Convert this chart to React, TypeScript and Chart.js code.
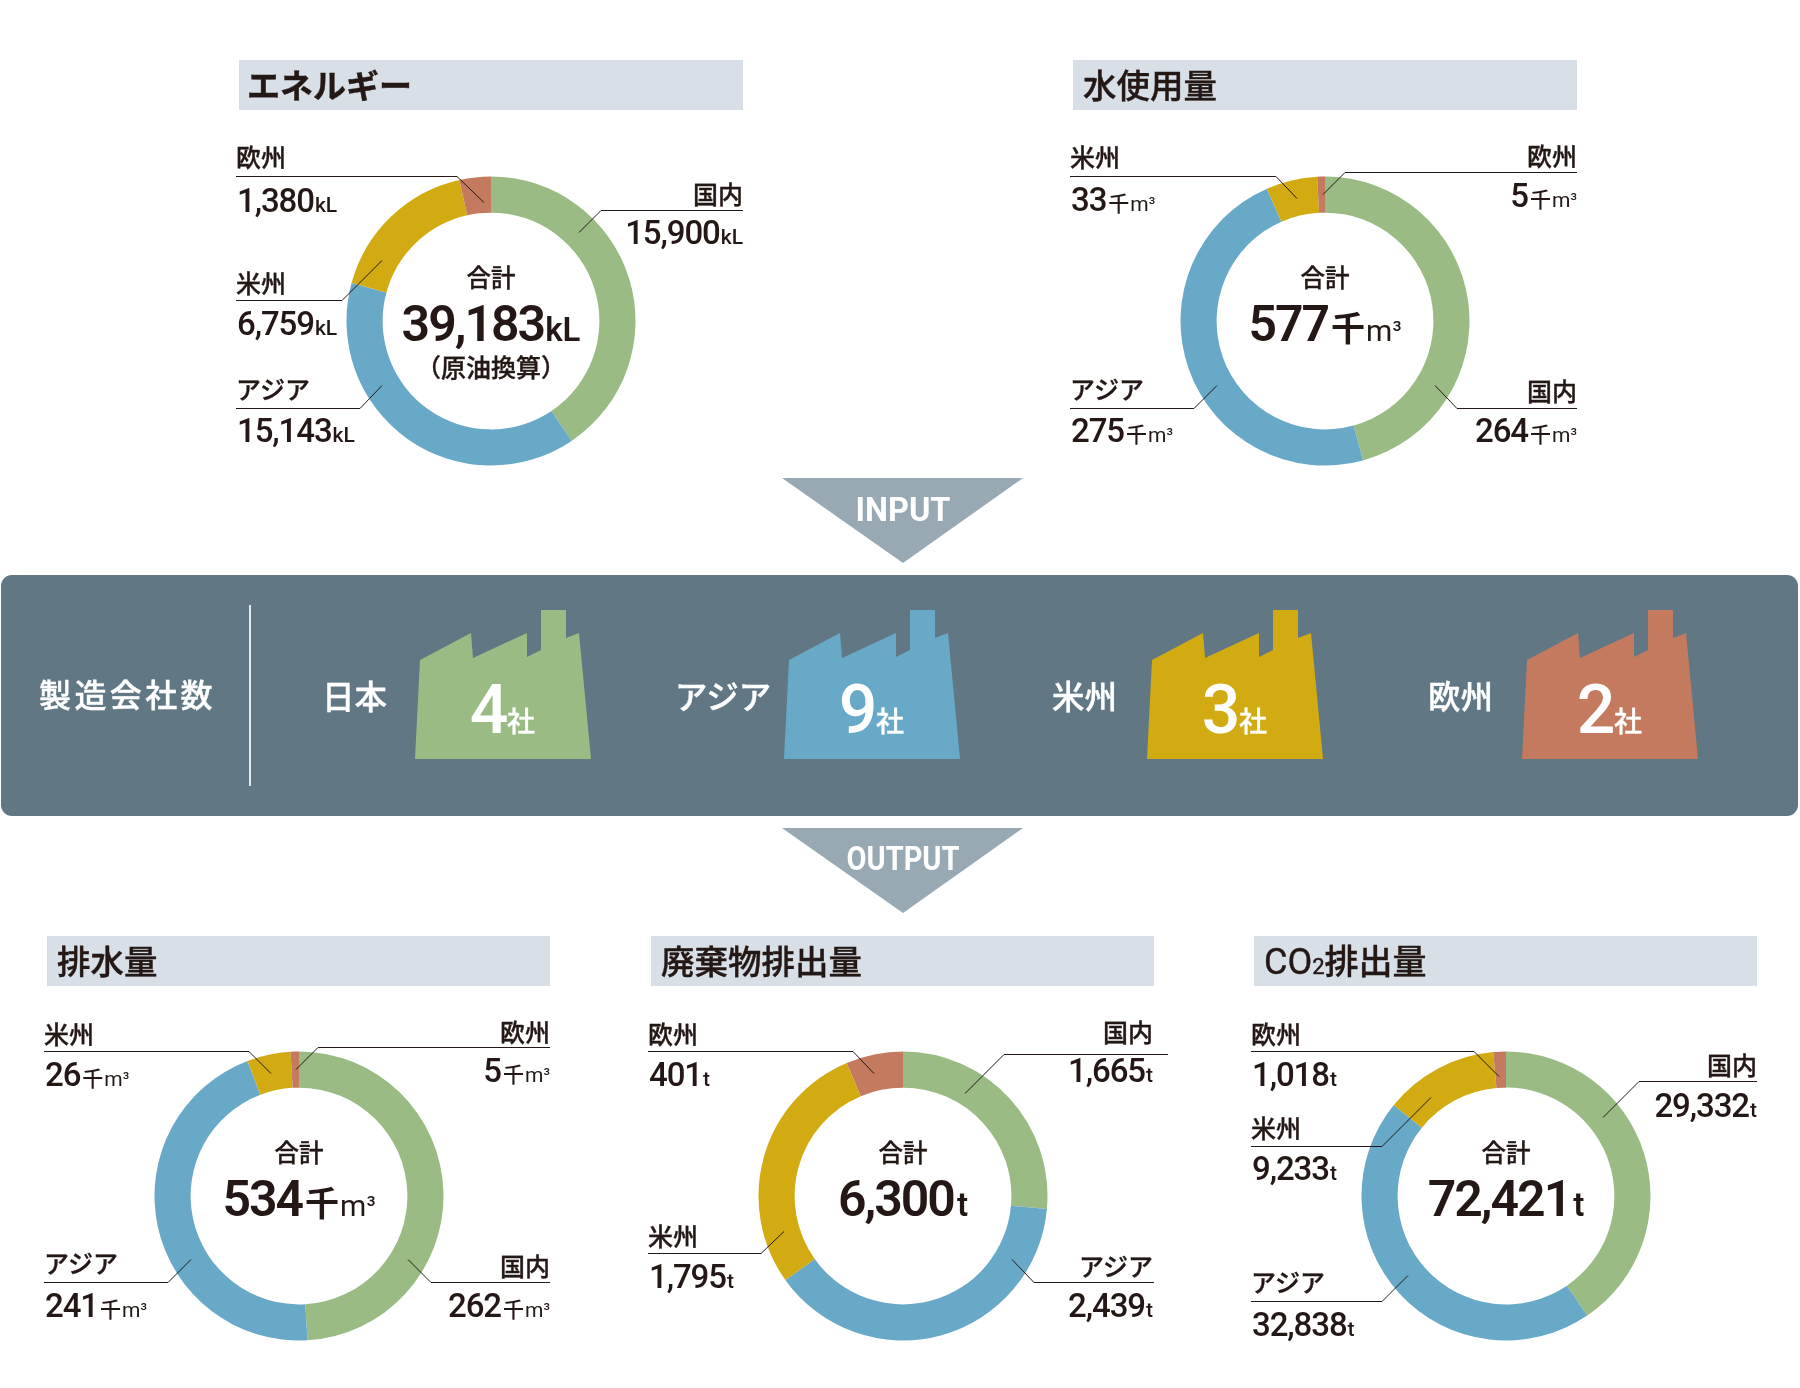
import React, { useEffect, useRef } from "react";
import { Chart, registerables } from "chart.js";

Chart.register(...registerables);

const regions = ["国内", "アジア", "米州", "欧州"];
const regionColors = ["#9BBB85", "#69A9C8", "#D2AB12", "#C47A5F"];

const energyValues = [15900, 15143, 6759, 1380];
const waterValues = [264, 275, 33, 5];
const drainValues = [262, 241, 26, 5];
const wasteValues = [1665, 2439, 1795, 401];
const co2Values = [29332, 32838, 9233, 1018];

const chartTotals = [39183, 577, 534, 6300, 72421];
const chartUnits = ["kL", "千m³", "千m³", "t", "t"];
const chartTitles = ["エネルギー", "水使用量", "排水量", "廃棄物排出量", "CO2排出量"];

const companyRegions = ["日本", "アジア", "米州", "欧州"];
const companyCounts = [4, 9, 3, 2];
const companyColors = ["#9BBB85", "#69A9C8", "#D2AB12", "#C47A5F"];

const INK = "#231815";
const FONT = 'Roboto, "Noto Sans CJK JP", sans-serif';

type Callout = { end: boolean; x: number; nameY: number; valueY: number; line: number[] };
type Layout = { cx: number; cy: number; bandX: number; bandY: number; bandW: number; callouts: Callout[] };

// callouts follow the order of `regions`
const layouts: Layout[] = [
  {
    cx: 491, cy: 321, bandX: 239, bandY: 60, bandW: 504,
    callouts: [
      { end: true, x: 743, nameY: 204, valueY: 244, line: [743, 210, 601, 210, 579, 232] },
      { end: false, x: 236, nameY: 399, valueY: 442, line: [236, 408, 360, 408, 382, 385] },
      { end: false, x: 236, nameY: 293, valueY: 335, line: [236, 300, 342, 300, 382, 260] },
      { end: false, x: 236, nameY: 167, valueY: 212, line: [236, 176, 457, 176, 484, 202] },
    ],
  },
  {
    cx: 1325, cy: 321, bandX: 1073, bandY: 60, bandW: 504,
    callouts: [
      { end: true, x: 1577, nameY: 401, valueY: 442, line: [1577, 408, 1457, 408, 1435, 385] },
      { end: false, x: 1070, nameY: 399, valueY: 442, line: [1070, 408, 1194, 408, 1217, 385] },
      { end: false, x: 1070, nameY: 167, valueY: 211, line: [1070, 176, 1276, 176, 1297, 198] },
      { end: true, x: 1577, nameY: 166, valueY: 207, line: [1577, 172, 1345, 172, 1323, 194] },
    ],
  },
  {
    cx: 299, cy: 1196, bandX: 47, bandY: 936, bandW: 503,
    callouts: [
      { end: true, x: 550, nameY: 1276, valueY: 1317, line: [550, 1282, 431, 1282, 408, 1259] },
      { end: false, x: 44, nameY: 1273, valueY: 1317, line: [44, 1282, 168, 1282, 191, 1259] },
      { end: false, x: 44, nameY: 1044, valueY: 1086, line: [44, 1051, 249, 1051, 271, 1073] },
      { end: true, x: 550, nameY: 1042, valueY: 1082, line: [550, 1047, 318, 1047, 296, 1069] },
    ],
  },
  {
    cx: 903, cy: 1196, bandX: 651, bandY: 936, bandW: 503,
    callouts: [
      { end: true, x: 1153, nameY: 1042, valueY: 1082, line: [1168, 1054, 1004, 1054, 965, 1093] },
      { end: true, x: 1153, nameY: 1276, valueY: 1317, line: [1154, 1282, 1034, 1282, 1012, 1259] },
      { end: false, x: 648, nameY: 1246, valueY: 1288, line: [648, 1253, 761, 1253, 784, 1231] },
      { end: false, x: 648, nameY: 1044, valueY: 1086, line: [648, 1051, 853, 1051, 874, 1073] },
    ],
  },
  {
    cx: 1506, cy: 1196, bandX: 1254, bandY: 936, bandW: 503,
    callouts: [
      { end: true, x: 1757, nameY: 1075, valueY: 1117, line: [1757, 1081, 1639, 1081, 1603, 1117] },
      { end: false, x: 1251, nameY: 1292, valueY: 1336, line: [1251, 1301, 1382, 1301, 1408, 1275] },
      { end: false, x: 1251, nameY: 1138, valueY: 1180, line: [1251, 1146, 1382, 1146, 1431, 1097] },
      { end: false, x: 1251, nameY: 1044, valueY: 1086, line: [1251, 1051, 1474, 1051, 1499, 1076] },
    ],
  },
];

const chartValues = [energyValues, waterValues, drainValues, wasteValues, co2Values];

const factoryX = [415, 784, 1147, 1522];
const factoryLabelX = [322, 675, 1052, 1428];
const factoryOutline = [
  [0, 759], [5, 660], [56, 633], [58, 658], [112, 633], [112, 657], [126, 650],
  [126, 610], [151, 610], [151, 638], [164, 633], [176, 759],
];

const fmt = (n: number) => n.toLocaleString("en-US");

function UnitSpans({ unit, big }: { unit: string; big: boolean }) {
  const size = big ? 33 : 21;
  if (unit === "千m³") {
    return (
      <>
        <tspan dx={big ? 3 : 2} fontSize={big ? 34 : 21}>千</tspan>
        <tspan fontSize={big ? 30 : 21} fontWeight={400} dx={1}>m</tspan>
        <tspan fontSize={big ? 25 : 18} fontWeight={400} dy={big ? -2 : -1}>³</tspan>
      </>
    );
  }
  return <tspan fontSize={size} dx={unit === "t" && big ? 3 : 1}>{unit}</tspan>;
}

function Donut({ values, layout }: { values: number[]; layout: Layout }) {
  const ref = useRef<HTMLCanvasElement | null>(null);
  useEffect(() => {
    if (!ref.current) return;
    const chart = new Chart(ref.current, {
      type: "doughnut",
      data: {
        labels: regions,
        datasets: [{ data: values, backgroundColor: regionColors, borderWidth: 0 }],
      },
      options: {
        animation: false,
        responsive: false,
        cutout: "75%",
        radius: 144.5,
        rotation: 0,
        layout: { padding: 0 },
        plugins: { legend: { display: false }, tooltip: { enabled: false } },
      },
    });
    return () => chart.destroy();
  }, []);
  return (
    <canvas
      ref={ref}
      width={290}
      height={290}
      style={{ position: "absolute", left: layout.cx - 145, top: layout.cy - 145, width: 290, height: 290 }}
    />
  );
}

function DonutText({ index }: { index: number }) {
  const layout = layouts[index];
  const values = chartValues[index];
  const unit = chartUnits[index];
  const title = chartTitles[index];
  const { cx, cy, bandX, bandY, bandW } = layout;
  const titleY = bandY + 38;
  const cjkStroke = { stroke: INK, strokeWidth: 0.35 };
  return (
    <g fontFamily={FONT} fill={INK}>
      <rect x={bandX} y={bandY} width={bandW} height={50} fill="#D8DFE6" />
      {title === "CO2排出量" ? (
        <text x={bandX + 10} y={titleY} fontSize={34} fontWeight={500} stroke={INK} strokeWidth={0.4}>
          <tspan fontSize={36} fontWeight={400}>CO</tspan>
          <tspan fontSize={22} fontWeight={400}>2</tspan>
          <tspan>排出量</tspan>
        </text>
      ) : (
        <text
          x={bandX + (index === 0 ? 8 : 10)}
          y={titleY}
          fontSize={index === 0 ? 33 : 33.5}
          fontWeight={index === 0 ? 700 : 500}
          stroke={INK}
          strokeWidth={0.4}
        >
          {title}
        </text>
      )}
      {layout.callouts.map((c, i) => {
        const p = c.line;
        return (
          <g key={i}>
            <polyline
              points={`${p[0]},${p[1] + 0.5} ${p[2]},${p[3] + 0.5} ${p[4]},${p[5] + 0.5}`}
              fill="none"
              stroke={INK}
              strokeWidth={1}
            />
            <text x={c.x} y={c.nameY} fontSize={25} fontWeight={500} textAnchor={c.end ? "end" : "start"} {...cjkStroke}>
              {regions[i]}
            </text>
            <text x={c.x + (c.end ? 0 : 1)} y={c.valueY} fontSize={33} fontWeight={500} textAnchor={c.end ? "end" : "start"}>
              <tspan letterSpacing={-1.1}>{fmt(values[i])}</tspan>
              <UnitSpans unit={unit} big={false} />
            </text>
          </g>
        );
      })}
      <text x={cx} y={cy - 34} fontSize={24.5} fontWeight={500} textAnchor="middle" {...cjkStroke}>合計</text>
      <text x={cx} y={cy + 20} fontSize={50} fontWeight={600} textAnchor="middle">
        <tspan letterSpacing={-2}>{fmt(chartTotals[index])}</tspan>
        <UnitSpans unit={unit} big={true} />
      </text>
      {index === 0 && (
        <text x={cx} y={cy + 56} fontSize={25} fontWeight={500} textAnchor="middle" {...cjkStroke}>（原油換算）</text>
      )}
    </g>
  );
}

function Arrow({ top, label, width, dy }: { top: number; label: string; width: number; dy: number }) {
  return (
    <g>
      <polygon points={`782,${top} 1023,${top} 903,${top + 85}`} fill="#98A9B3" />
      <text
        x={903}
        y={top + dy}
        fontFamily={FONT}
        fontSize={33}
        fontWeight={700}
        fill="#fff"
        textAnchor="middle"
        textLength={width}
        lengthAdjust="spacingAndGlyphs"
      >
        {label}
      </text>
    </g>
  );
}

export default function App() {
  return (
    <div style={{ position: "absolute", left: 0, top: 0, width: 1800, height: 1388, background: "#fff", overflow: "hidden" }}>
      {layouts.map((l, i) => (
        <Donut key={i} values={chartValues[i]} layout={l} />
      ))}
      <svg
        width={1800}
        height={1388}
        viewBox="0 0 1800 1388"
        style={{ position: "absolute", left: 0, top: 0, pointerEvents: "none" }}
      >
        {layouts.map((_, i) => (
          <DonutText key={i} index={i} />
        ))}
        <Arrow top={478} label="INPUT" width={95} dy={43} />
        <rect x={1} y={575} width={1797} height={241} rx={11} fill="#617784" />
        <Arrow top={828} label="OUTPUT" width={113} dy={42} />
        <rect x={249} y={605} width={2} height={181} fill="#E4E8EB" />
        <text x={39} y={707} fontFamily={FONT} fontSize={32} fontWeight={500} fill="#fff" letterSpacing={3.4} stroke="#fff" strokeWidth={0.4}>
          製造会社数
        </text>
        {companyRegions.map((name, i) => {
          const x0 = factoryX[i];
          return (
            <g key={name} fontFamily={FONT} fill="#fff">
              <text x={factoryLabelX[i]} y={709} fontSize={32.5} fontWeight={500} stroke="#fff" strokeWidth={0.4}>{name}</text>
              <polygon
                points={factoryOutline.map(([dx, y]) => `${x0 + dx},${y}`).join(" ")}
                fill={companyColors[i]}
              />
              <text x={x0 + 74} y={733} fontSize={68} fontWeight={500} textAnchor="middle">{companyCounts[i]}</text>
              <text x={x0 + 92} y={732} fontSize={28} fontWeight={500} stroke="#fff" strokeWidth={0.3}>社</text>
            </g>
          );
        })}
      </svg>
    </div>
  );
}
